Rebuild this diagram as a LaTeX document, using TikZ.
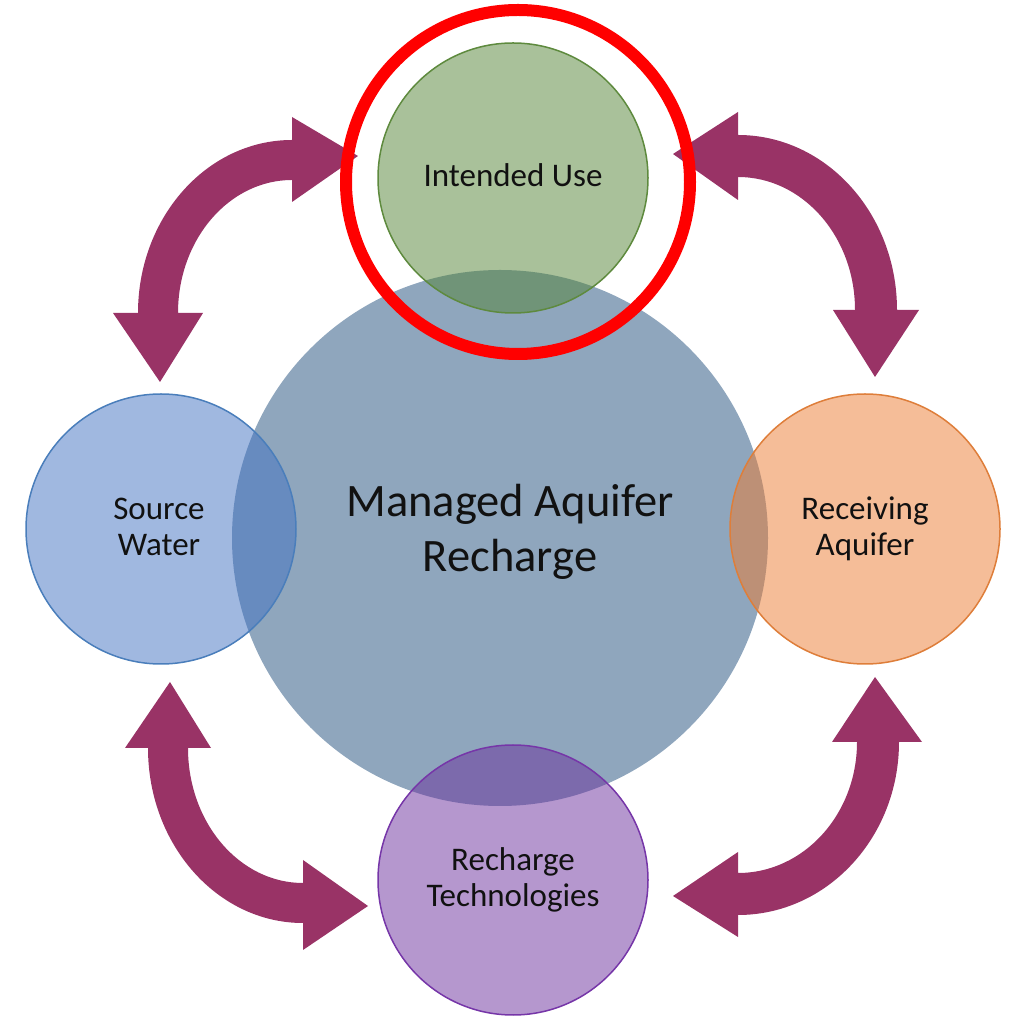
\documentclass[tikz,border=0pt]{standalone}
\usepackage{fontspec}
\setmainfont{Carlito}
\definecolor{bigc}{HTML}{8FA6BD}
\definecolor{greenf}{HTML}{538335}
\definecolor{greenb}{HTML}{5E8A3E}
\definecolor{bluef}{HTML}{4171C1}
\definecolor{blueb}{HTML}{4A7EBB}
\definecolor{orangef}{HTML}{EB7B31}
\definecolor{orangeb}{HTML}{DE7E3A}
\definecolor{purplef}{HTML}{6B2F9D}
\definecolor{purpleb}{HTML}{7636A8}
\definecolor{arrowc}{HTML}{993366}
\definecolor{txt}{HTML}{111111}
\begin{document}
\begin{tikzpicture}[x=1pt,y=1pt,
  small/.style={circle,minimum size=270pt,inner sep=0pt,line width=1.5pt,fill opacity=0.5,draw opacity=1},
  lbl/.style={align=center,font=\fontsize{33}{36}\selectfont,text=txt},
  bigarrow/.style={fill=arrowc}]
\useasboundingbox (0,0) rectangle (1010,1018);
% central circle
\node[circle,minimum size=536pt,inner sep=0pt,fill=bigc] (mar) at (500,480) {};
% surrounding circles
\node[small,fill=greenf,draw=greenb] (use) at (513,840) {};
\node[small,fill=bluef,draw=blueb] (src) at (161,489) {};
\node[small,fill=orangef,draw=orangeb] (aq) at (865,489) {};
\node[small,fill=purplef,draw=purpleb] (tech) at (513,138) {};
% curved double arrows
\fill[bigarrow] (292,878) -- (292,901) -- (358,862) -- (292,816) -- (292,838)
  arc[start angle=90,end angle=180,x radius=114,y radius=133]
  -- (203,705) -- (160,636) -- (113,705) -- (138,705)
  arc[start angle=180,end angle=90,x radius=154,y radius=173] -- cycle;
\fill[bigarrow] (738,883) -- (738,906) -- (673,864) -- (738,818) -- (738,841)
  arc[start angle=90,end angle=0,x radius=117,y radius=133]
  -- (833,708) -- (875,641) -- (919,708) -- (897,708)
  arc[start angle=0,end angle=90,x radius=159,y radius=175] -- cycle;
\fill[bigarrow] (148,270) -- (125,270) -- (170,336) -- (211,270) -- (188,270)
  arc[start angle=180,end angle=270,x radius=115,y radius=135]
  -- (303,158) -- (368,112) -- (303,68) -- (303,95)
  arc[start angle=270,end angle=180,x radius=155,y radius=175] -- cycle;
\fill[bigarrow] (899,276) -- (922,276) -- (875,341) -- (832,276) -- (857,276)
  arc[start angle=0,end angle=-90,x radius=119,y radius=131]
  -- (738,166) -- (673,122) -- (738,81) -- (738,103)
  arc[start angle=-90,end angle=0,x radius=161,y radius=173] -- cycle;
% red highlight ring
\node[circle,minimum size=344pt,inner sep=0pt,draw=red,line width=12pt] (ring) at (518,836) {};
% labels
\node[lbl] (tuse) at (513,843) {Intended Use};
\node[lbl] (tsrc) at (159,491.5) {Source\\Water};
\node[lbl] (taq) at (865,489) {Receiving\\Aquifer};
\node[lbl] (ttech) at (513,138.5) {Recharge\\Technologies};
\node[align=center,font=\fontsize{46.5}{55}\selectfont,text=txt] (tmar) at (510,486.5) {Managed Aquifer\\Recharge};
\end{tikzpicture}
\end{document}
